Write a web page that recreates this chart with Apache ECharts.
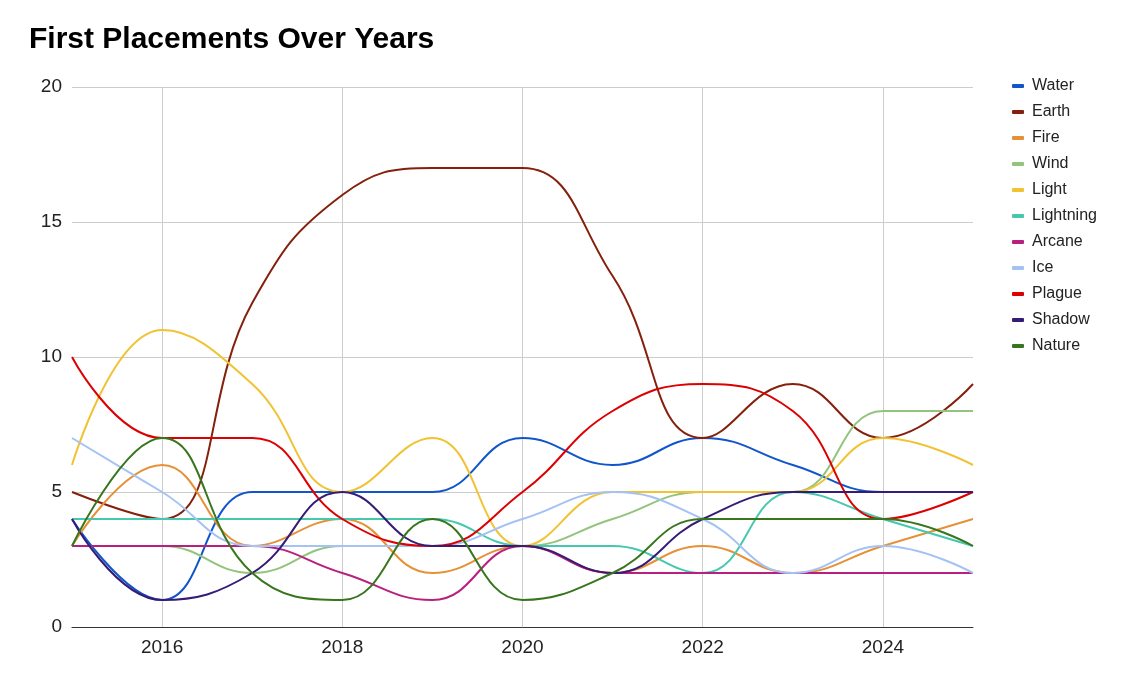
<!DOCTYPE html>
<html>
<head>
<meta charset="utf-8">
<script src="https://cdn.jsdelivr.net/npm/echarts@6/dist/echarts.min.js"></script>
<style>html,body{margin:0;padding:0;background:#fff}#c{width:1124px;height:689px}</style>
</head>
<body>
<div id="c"></div>
<script>
const years = ['2015','2016','2017','2018','2019','2020','2021','2022','2023','2024','2025'];
const water     = [4, 1, 5, 5, 5, 7, 6, 7, 6, 5, 5];
const earth     = [5, 4, 12, 16, 17, 17, 13, 7, 9, 7, 9];
const fire      = [3, 6, 3, 4, 2, 3, 2, 3, 2, 3, 4];
const wind      = [3, 3, 2, 3, 3, 3, 4, 5, 5, 8, 8];
const light     = [6, 11, 9, 5, 7, 3, 5, 5, 5, 7, 6];
const lightning = [4, 4, 4, 4, 4, 3, 3, 2, 5, 4, 3];
const arcane    = [3, 3, 3, 2, 1, 3, 2, 2, 2, 2, 2];
const ice       = [7, 5, 3, 3, 3, 4, 5, 4, 2, 3, 2];
const plague    = [10, 7, 7, 4, 3, 5, 8, 9, 8, 4, 5];
const shadow    = [4, 1, 2, 5, 3, 3, 2, 4, 5, 5, 5];
const nature    = [3, 7, 2, 1, 4, 1, 2, 4, 4, 4, 3];
const yTicks = [0, 5, 10, 15, 20];

const seriesDefs = [
  ['Water', water, '#1155cc'],
  ['Earth', earth, '#85200c'],
  ['Fire', fire, '#e69138'],
  ['Wind', wind, '#93c47d'],
  ['Light', light, '#f1c232'],
  ['Lightning', lightning, '#45c8ae'],
  ['Arcane', arcane, '#b8207f'],
  ['Ice', ice, '#a4c2f4'],
  ['Plague', plague, '#dd0000'],
  ['Shadow', shadow, '#351c75'],
  ['Nature', nature, '#38761d']
];

const FONT = "'Liberation Sans', Arial, sans-serif";
const chart = echarts.init(document.getElementById('c'), null, {renderer: 'canvas'});
chart.setOption({
  animation: false,
  title: {
    text: 'First Placements Over Years',
    left: 24, top: 20,
    textStyle: {fontFamily: FONT, fontSize: 30, fontWeight: 'bold', color: '#000'}
  },
  legend: {
    orient: 'vertical',
    left: 1007, top: 73,
    icon: 'roundRect',
    itemWidth: 12, itemHeight: 4,
    itemGap: 10,
    textStyle: {fontFamily: FONT, fontSize: 16, color: '#222', lineHeight: 16, padding: [0, 0, 0, 3]},
    data: seriesDefs.map(s => s[0])
  },
  grid: {left: 72, right: 151, top: 87, bottom: 62, containLabel: false},
  xAxis: {
    type: 'category',
    data: years,
    boundaryGap: false,
    axisLine: {lineStyle: {color: '#333', width: 1}},
    axisTick: {show: false},
    axisLabel: {
      interval: (i) => i % 2 === 1,
      fontFamily: FONT, fontSize: 19, color: '#222', margin: 11
    },
    splitLine: {show: true, interval: (i) => i % 2 === 1, lineStyle: {color: '#cccccc', width: 1}}
  },
  yAxis: {
    type: 'value',
    min: yTicks[0], max: yTicks[yTicks.length - 1], interval: 5,
    axisLine: {show: false},
    axisTick: {show: false},
    axisLabel: {fontFamily: FONT, fontSize: 19, color: '#222', margin: 10, padding: [4, 0, 0, 0]},
    splitLine: {lineStyle: {color: '#cccccc', width: 1}}
  },
  series: seriesDefs.map(([name, data, color]) => ({
    name, type: 'line', data,
    smooth: 0.45,
    symbol: 'none',
    color,
    lineStyle: {width: 2, color}
  }))
});
</script>
</body>
</html>
